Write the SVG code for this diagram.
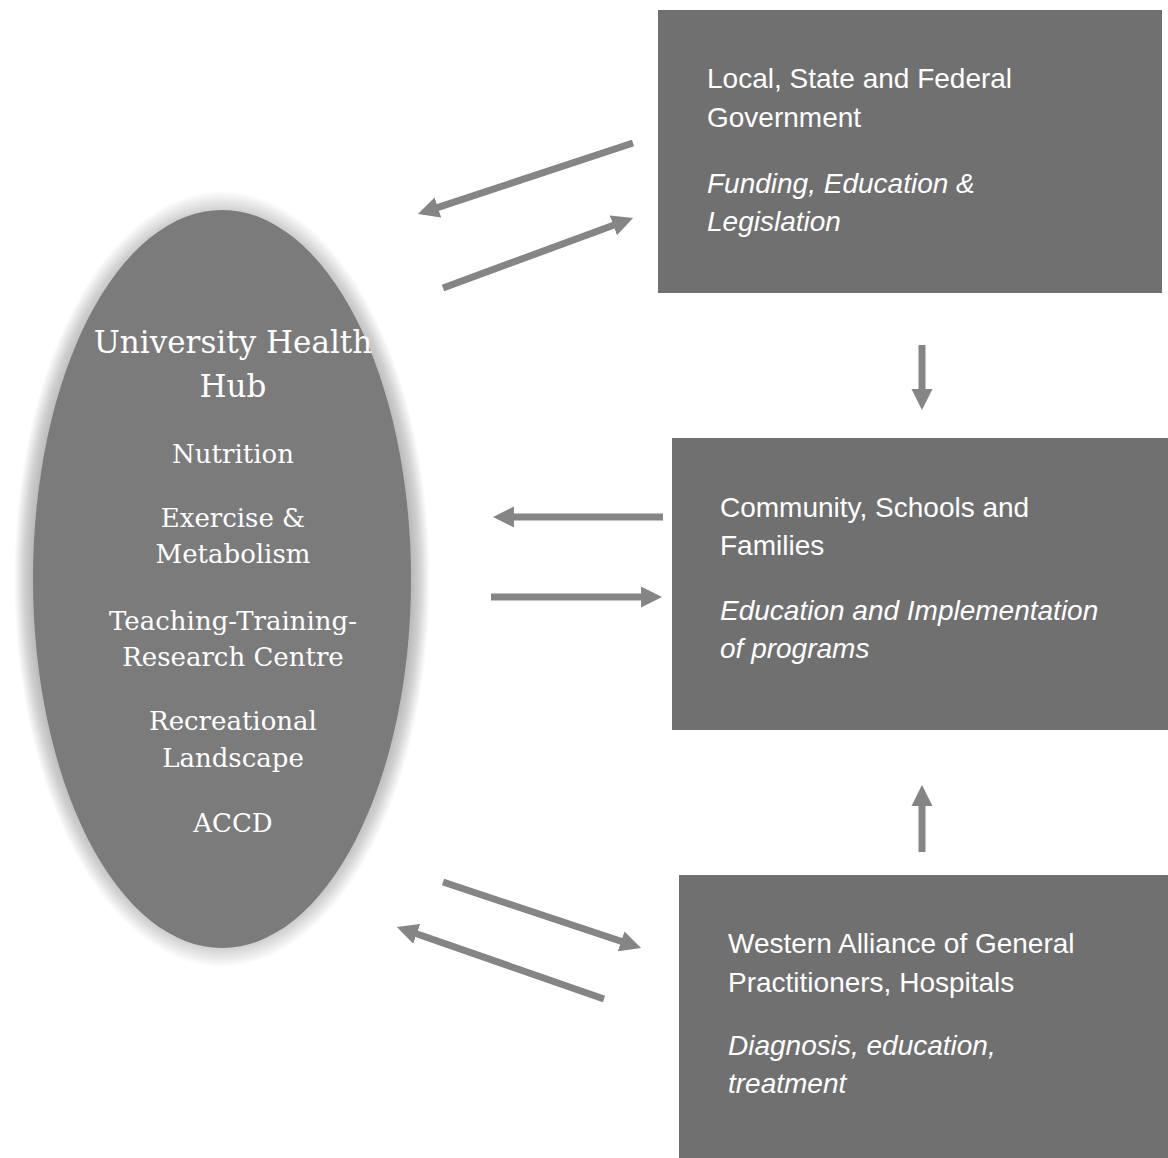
<svg xmlns="http://www.w3.org/2000/svg" width="1168" height="1158" viewBox="0 0 1168 1158">
  <style>
    .box { fill: #707070; }
    .hub { font-family: "DejaVu Serif", "Liberation Serif", serif; fill: #ffffff; text-anchor: middle; }
    .t1 { font-size: 31px; }
    .t2 { font-size: 26px; }
    .lbl { font-family: "Liberation Sans", Arial, sans-serif; font-size: 28px; fill: #ffffff; }
    .it { font-style: italic; }
    .conn { stroke: #858585; stroke-width: 7; fill: none; marker-end: url(#head); }
  </style>
  <defs>
    <marker id="head" viewBox="0 0 10 10" refX="5.2" refY="5" markerWidth="3" markerHeight="3.2" orient="auto" markerUnits="strokeWidth">
      <path d="M0,0 L10,5 L0,10 Z" fill="#858585"/>
    </marker>
    <radialGradient id="halo" cx="0.5" cy="0.5" r="0.5">
      <stop offset="0.88" stop-color="#a8a8a8"/>
      <stop offset="0.95" stop-color="#d0d0d0"/>
      <stop offset="1" stop-color="#ffffff"/>
    </radialGradient>
  </defs>
  <rect width="1168" height="1158" fill="#ffffff"/>

  <g id="hub">
    <ellipse cx="222" cy="579" rx="208" ry="388" fill="url(#halo)"/>
    <ellipse cx="222" cy="579" rx="189" ry="369" fill="#7b7b7b"/>
    <text class="hub t1" x="233" y="353">University Health</text>
    <text class="hub t1" x="233" y="397">Hub</text>
    <text class="hub t2" x="233" y="463">Nutrition</text>
    <text class="hub t2" x="233" y="527">Exercise &amp;</text>
    <text class="hub t2" x="233" y="563">Metabolism</text>
    <text class="hub t2" x="233" y="630">Teaching-Training-</text>
    <text class="hub t2" x="233" y="666">Research Centre</text>
    <text class="hub t2" x="233" y="730">Recreational</text>
    <text class="hub t2" x="233" y="767">Landscape</text>
    <text class="hub t2" x="233" y="832">ACCD</text>
  </g>

  <g id="government">
    <rect class="box" x="658" y="10" width="504" height="283"/>
    <text class="lbl" x="707" y="88">Local, State and Federal</text>
    <text class="lbl" x="707" y="127">Government</text>
    <text class="lbl it" x="707" y="193">Funding, Education &amp;</text>
    <text class="lbl it" x="707" y="231">Legislation</text>
  </g>

  <g id="community">
    <rect class="box" x="672" y="438" width="496" height="292"/>
    <text class="lbl" x="720" y="517">Community, Schools and</text>
    <text class="lbl" x="720" y="555">Families</text>
    <text class="lbl it" x="720" y="620">Education and Implementation</text>
    <text class="lbl it" x="720" y="658">of programs</text>
  </g>

  <g id="practitioners">
    <rect class="box" x="679" y="875" width="489" height="283"/>
    <text class="lbl" x="728" y="953">Western Alliance of General</text>
    <text class="lbl" x="728" y="992">Practitioners, Hospitals</text>
    <text class="lbl it" x="728" y="1055">Diagnosis, education,</text>
    <text class="lbl it" x="728" y="1093">treatment</text>
  </g>

  <g id="connectors">
    <line class="conn" x1="633" y1="143" x2="427.5" y2="210.9"/>
    <line class="conn" x1="443" y1="288" x2="623.6" y2="221.5"/>
    <line class="conn" x1="663" y1="517" x2="503" y2="517"/>
    <line class="conn" x1="491" y1="597" x2="652" y2="597"/>
    <line class="conn" x1="443" y1="882" x2="631.5" y2="944.8"/>
    <line class="conn" x1="604" y1="999" x2="406.4" y2="930.3"/>
    <line class="conn" x1="922" y1="345" x2="922" y2="400"/>
    <line class="conn" x1="922" y1="852" x2="922" y2="795"/>
  </g>
</svg>
